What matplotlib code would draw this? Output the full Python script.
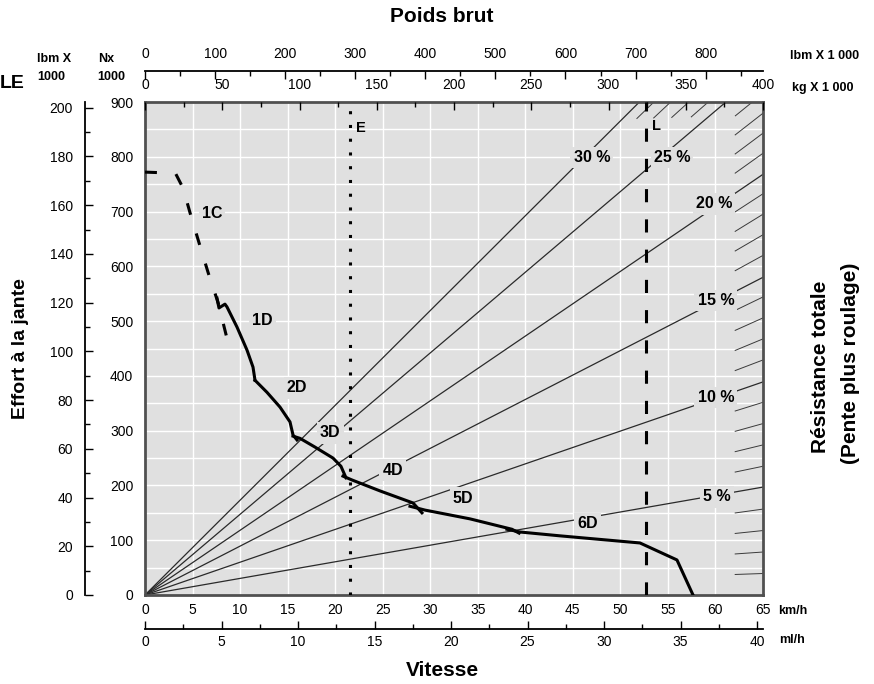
import numpy as np
import matplotlib
matplotlib.use('Agg')
import matplotlib.pyplot as plt
from matplotlib.ticker import MultipleLocator

plt.rcParams['font.family'] = ['Liberation Sans', 'DejaVu Sans']

# Axis ranges and unit conversions
SPEED_MAX = 65          # km/h
FORCE_MAX = 900         # kN
WEIGHT_MAX = 400        # kg x 1000
KG_PER_LB = 0.45359237
KMH_PER_MPH = 1.609344
KN_PER_KLBF = 4.4482216

# Rimpull curves (speed km/h, rimpull kN)
gear_1C_speed = [0.0, 3.2, 4.0, 4.75, 5.7, 6.65, 7.7, 8.6]
gear_1C_force = [772, 770, 743, 697, 642, 588, 533, 470]
gear_1D_speed = [7.57, 7.78, 8.41, 8.62, 9.68, 10.73, 11.36, 11.57]
gear_1D_force = [542, 524, 531, 526, 489, 447, 416, 392]
gear_2D_speed = [11.57, 12.83, 14.2, 15.25, 15.57, 15.99]
gear_2D_force = [392, 370, 343, 316, 292, 283]
gear_3D_speed = [15.57, 16.3, 17.88, 19.77, 20.61, 21.14]
gear_3D_force = [290, 286, 270, 250, 235, 214]
gear_4D_speed = [20.82, 21.77, 24.72, 28.19, 29.13]
gear_4D_force = [217, 210, 190, 168, 150]
gear_5D_speed = [27.87, 29.45, 34.18, 38.6, 39.34]
gear_5D_force = [162, 155, 139, 120, 113]
gear_6D_speed = [38.07, 39.44, 43.65, 52.06, 55.95, 57.64]
gear_6D_force = [120, 115, 108, 95, 64, 0]

# Total resistance lines: end point (weight t, force kN) of each line
grade_pct = [5, 10, 15, 20, 25, 30]
grade_end_t = [400, 400, 400, 400, 376, 320]
grade_end_kN = [197, 389, 580, 768, 900, 900]
grade_minor_pct = [1, 2, 3, 4, 6, 7, 8, 9, 11, 12, 13, 14,
                   16, 17, 18, 19, 21, 22, 23, 24, 26, 27, 28, 29]

# Empty / loaded gross weight (kg x 1000)
empty_weight_t = 133
loaded_weight_t = 324

BG = '#e0e0e0'
W, H = 874, 684

fig = plt.figure(figsize=(W / 100, H / 100), dpi=100)
ax = fig.add_axes([145 / W, 1 - 595 / H, 618 / W, 493 / H])
ax.set_facecolor(BG)
ax.set_xlim(0, SPEED_MAX)
ax.set_ylim(0, FORCE_MAX)
ax.set_xticks(range(0, SPEED_MAX + 1, 5))
ax.set_yticks(range(0, FORCE_MAX + 1, 100))
ax.yaxis.set_minor_locator(MultipleLocator(50))
ax.set_axisbelow(True)
ax.grid(True, which='both', color='white', lw=1)
ax.tick_params(which='both', length=0, labelsize=10)
ax.tick_params(axis='x', pad=6)
ax.tick_params(axis='y', pad=8.5)
for s in ax.spines.values():
    s.set_color('#505050')
    s.set_linewidth(2)

# top: kg x 1000
kg = ax.twiny()
kg.set_xlim(0, WEIGHT_MAX)
kg.xaxis.set_major_locator(MultipleLocator(50))
kg.xaxis.set_minor_locator(MultipleLocator(25))
kg.tick_params(which='both', direction='in', width=1, labelsize=10, pad=7)
kg.tick_params(which='major', length=6)
kg.tick_params(which='minor', length=3.5)
for s in kg.spines.values():
    s.set_visible(False)

# top: lbm x 1000
lbm = ax.twiny()
lbm.set_xlim(0, WEIGHT_MAX / KG_PER_LB)
lbm.xaxis.set_major_locator(MultipleLocator(100))
lbm.xaxis.set_minor_locator(MultipleLocator(50))
lbm.tick_params(which='both', direction='in', width=1, labelsize=10, pad=7.5)
lbm.tick_params(which='major', length=6)
lbm.tick_params(which='minor', length=3.5)
for name, s in lbm.spines.items():
    s.set_visible(name == 'top')
lbm.spines['top'].set_position(('outward', 22.3))
lbm.spines['top'].set_linewidth(1.3)

# bottom: mph
mph = ax.twiny()
mph.set_xlim(0, SPEED_MAX / KMH_PER_MPH)
mph.xaxis.set_ticks_position('bottom')
mph.xaxis.set_label_position('bottom')
mph.xaxis.set_major_locator(MultipleLocator(5))
mph.xaxis.set_minor_locator(MultipleLocator(2.5))
mph.tick_params(which='both', direction='in', width=1, labelsize=10, pad=4)
mph.tick_params(which='major', length=6)
mph.tick_params(which='minor', length=3.5)
for name, s in mph.spines.items():
    s.set_visible(name == 'bottom')
mph.spines['bottom'].set_position(('outward', 24.5))
mph.spines['bottom'].set_linewidth(1.3)

# left: lbf x 1000
lbf = ax.twinx()
lbf.set_ylim(0, FORCE_MAX / KN_PER_KLBF)
lbf.yaxis.set_ticks_position('left')
lbf.yaxis.set_label_position('left')
lbf.yaxis.set_major_locator(MultipleLocator(20))
lbf.yaxis.set_minor_locator(MultipleLocator(10))
lbf.tick_params(which='both', direction='in', width=1, labelsize=10, pad=9)
lbf.tick_params(which='major', length=6)
lbf.tick_params(which='minor', length=3.5)
for name, s in lbf.spines.items():
    s.set_visible(name == 'left')
lbf.spines['left'].set_position(('outward', 43))
lbf.spines['left'].set_linewidth(1.3)

# grade lines (drawn in the weight scale of the top axis)
for w_end, f_end in zip(grade_end_t, grade_end_kN):
    ax.plot([0, w_end], [0, f_end], color='#2a2a2a', lw=0.9,
            transform=kg.transData, zorder=2)

for p in grade_minor_pct:
    k = 9.81 * np.sin(np.arctan(p / 100))
    w_end = min(WEIGHT_MAX, FORCE_MAX / k)
    w_start = w_end - (18 if w_end >= WEIGHT_MAX else 11)
    ax.plot([w_start, w_end], [w_start * k, w_end * k], color='#3a3a3a',
            lw=0.7, transform=kg.transData, zorder=2)

# empty and loaded weight markers
ax.plot([empty_weight_t] * 2, [0, FORCE_MAX], color='black', lw=2.2,
        linestyle=(0, (1, 3.5)), dash_capstyle='butt',
        transform=kg.transData, zorder=3)
ax.plot([loaded_weight_t] * 2, [0, FORCE_MAX], color='black', lw=2.2,
        linestyle=(0, (4.3, 5.6)), dash_capstyle='butt',
        transform=kg.transData, zorder=3)
ax.text(22.2, 852, 'E', fontsize=10.5, fontweight='bold', va='center', zorder=4)
ax.text(53.3, 856, 'L', fontsize=10.5, fontweight='bold', va='center', zorder=4)

# grade labels
gap = dict(boxstyle='square,pad=0.2', fc=BG, ec='none')
grade_label_pos = [(60.16, 179), (60.05, 361), (60.05, 538),
                   (59.84, 714), (55.43, 799), (47.0, 799)]
for p, (x, y) in zip(grade_pct, grade_label_pos):
    ax.text(x, y, f'{p} %', fontsize=11.5, fontweight='bold', ha='center',
            va='center', bbox=gap, zorder=4)

# rimpull curves
ax.plot(gear_1C_speed, gear_1C_force, color='black', lw=2.2,
        linestyle=(0, (3.9, 6.4)), dash_capstyle='butt', zorder=5)
for sp, fo in [(gear_1D_speed, gear_1D_force), (gear_2D_speed, gear_2D_force),
               (gear_3D_speed, gear_3D_force), (gear_4D_speed, gear_4D_force),
               (gear_5D_speed, gear_5D_force), (gear_6D_speed, gear_6D_force)]:
    ax.plot(sp, fo, color='black', lw=2.2, solid_joinstyle='round', zorder=5)

gear_labels = ['1C', '1D', '2D', '3D', '4D', '5D', '6D']
gear_label_pos = [(7.05, 697), (12.31, 502), (15.99, 378), (19.46, 296),
                  (26.08, 228), (33.45, 177), (46.59, 131)]
for lab, (x, y) in zip(gear_labels, gear_label_pos):
    ax.text(x, y, lab, fontsize=11.5, fontweight='bold', ha='center',
            va='center', bbox=gap, zorder=4)

# titles and unit captions
def ftext(x, y, s, **kw):
    fig.text(x / W, 1 - y / H, s, **kw)

ftext(442, 17, 'Poids brut', ha='center', va='center', fontsize=15, fontweight='bold')
ftext(442, 671, 'Vitesse', ha='center', va='center', fontsize=15, fontweight='bold')
ftext(21, 349, 'Effort à la jante', ha='center', va='center', rotation=90,
      fontsize=14, fontweight='bold')
ftext(820, 367, 'Résistance totale', ha='center', va='center', rotation=90,
      fontsize=15, fontweight='bold')
ftext(850, 363, '(Pente plus roulage)', ha='center', va='center', rotation=90,
      fontsize=15, fontweight='bold')
ftext(778, 611, 'km/h', va='center', fontsize=9, fontweight='bold')
ftext(779, 640, 'ml/h', va='center', fontsize=9, fontweight='bold')
ftext(790, 56, 'lbm X 1 000', va='center', fontsize=9, fontweight='bold')
ftext(792, 88, 'kg X 1 000', va='center', fontsize=9, fontweight='bold')
ftext(37, 59, 'lbm X', va='center', fontsize=9, fontweight='bold')
ftext(37, 77, '1000', va='center', fontsize=9, fontweight='bold')
ftext(98, 59, 'Nx', va='center', fontsize=9, fontweight='bold')
ftext(97, 77, '1000', va='center', fontsize=9, fontweight='bold')
ftext(0, 83, 'LE', va='center', fontsize=14, fontweight='bold')

fig.savefig('out.png', dpi=100)
